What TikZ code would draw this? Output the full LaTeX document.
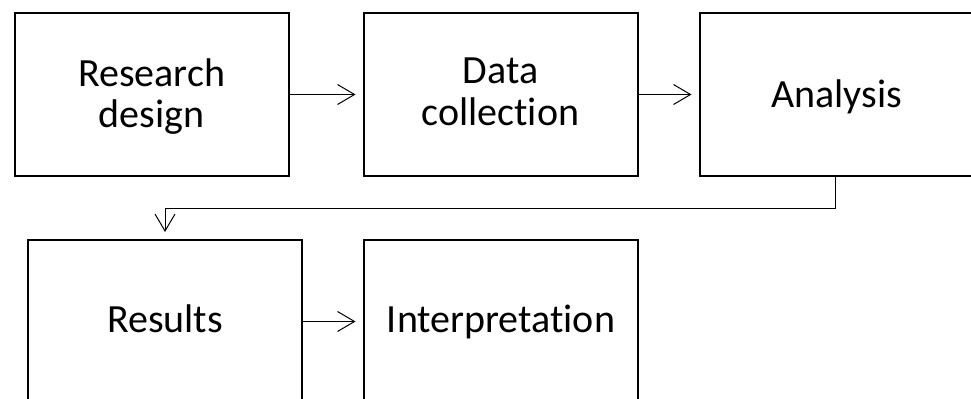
\documentclass[tikz,border=0pt]{standalone}
\usepackage{fontspec}
\setmainfont{Carlito}[Ligatures=NoCommon]
\usetikzlibrary{arrows.meta}
\tikzset{
  box/.style={draw=black, line width=1.5pt, minimum width=274*0.75pt, minimum height=163*0.75pt, inner sep=0pt, fill=white},
  txt/.style={anchor=base, inner sep=0pt, font=\fontsize{30}{36}\selectfont},
  conn/.style={draw=black, line width=0.75pt, -{Straight Barb[length=12.75pt,width=15pt]}, shorten >=5.25pt},
}
\begin{document}
\begin{tikzpicture}[x=0.75pt, y=-0.75pt]
\useasboundingbox (0,0) rectangle (971,399);
\clip (0,0) rectangle (971,399);
\node[box] (rd) at (151.5,94.5) {};
\node[box] (dc) at (500.5,94.5) {};
\node[box] (an) at (836.5,94.5) {};
\node[box] (res) at (165,321.5) {};
\node[box] (int) at (500.5,321.5) {};
\node[txt] (rd1) at (151.5,87) {Research};
\node[txt] (rd2) at (151.5,128) {design};
\node[txt] (dc1) at (500.5,83.5) {Data};
\node[txt] (dc2) at (500.5,125.5) {collection};
\node[txt] (an1) at (836.5,107.5) {Analysis};
\node[txt] (res1) at (165,332) {Results};
\node[txt] (int1) at (501,332.5) {Interpretation};
\draw[conn] (rd.east) -- (dc.west);
\draw[conn] (dc.east) -- (an.west);
\draw[conn] ([xshift=-1.1pt]an.south) -- ++(0,32) -| (res.north);
\draw[conn] (res.east) -- (int.west);
\end{tikzpicture}
\end{document}
